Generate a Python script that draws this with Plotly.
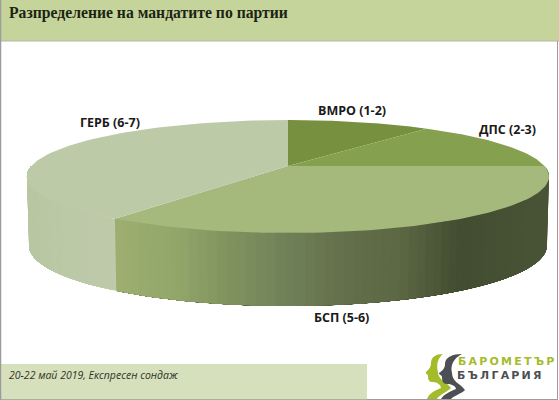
import numpy as np
import plotly.graph_objects as go

# mandates per party, clockwise from 12 o'clock
parties = ['ВМРО', 'ДПС', 'БСП', 'ГЕРБ']
ranges = ['1-2', '2-3', '5-6', '6-7']
mandates = [1.7, 2.3, 5.55, 6.45]

title_text = 'Разпределение на мандатите по партии'
footer_text = '20-22 май 2019, Експресен сондаж'
logo_top = 'БАРОМЕТЪР'
logo_bottom = 'БЪЛГАРИЯ'

top_colors = ['#76903f', '#85a04e', '#a5b97c', '#bdcaa8']

# pie geometry in pixels, the perspective is fitted to the picture
CX, CY = 288, 166
RX, RY = 256.5, 54.5
K = 0.186
DEPTH = 68


def project(theta, bottom=False):
    u, v = np.sin(theta), -np.cos(theta)
    x = CX + RX * u / (1 - K * v)
    y = CY + RY * v / (1 - K * v)
    if bottom:
        x = CX + (x - CX) * 0.992
        y = y + DEPTH + 5 * v
    return x, y


def hex_rgb(c):
    return np.array([int(c[i:i + 2], 16) for i in (1, 3, 5)], dtype=float)


def grad(x, stops):
    xs = [s[0] for s in stops]
    rgb = [np.interp(x, xs, [hex_rgb(s[1])[i] for s in stops]) for i in range(3)]
    return 'rgb(%d,%d,%d)' % tuple(rgb)


def spaced(text):
    # wide logo lettering, plotly has no letter spacing
    return '\u2009'.join(text)


bsp_side = [(113, '#9db071'), (170, '#95a86c'), (230, '#80935f'), (280, '#72835a'),
            (350, '#626f4a'), (400, '#5c6944'), (460, '#434d31'), (549, '#4a5537')]
gerb_side = [(27, '#b8c7a2'), (60, '#bbc9a6'), (113, '#bfcaab')]

shares = np.array(mandates) / sum(mandates)
edges = np.concatenate([[0], np.cumsum(shares)]) * 2 * np.pi

fig = go.Figure()


def add_poly(xs, ys, color):
    fig.add_trace(go.Scatter(x=xs, y=ys, mode='lines', fill='toself', fillcolor=color,
                             line=dict(width=0), hoverinfo='skip', showlegend=False))


# side wall, cut in strips for the gradient. each strip runs on to the slice end
# so the next one paints over it and no seams show
for i, stops in ((2, bsp_side), (3, gerb_side)):
    start = max(edges[i], np.pi / 2)
    end = min(edges[i + 1], 3 * np.pi / 2)
    cuts = np.linspace(start, end, 70)
    for a, b in zip(cuts[:-1], cuts[1:]):
        t = np.linspace(a, end, 60)
        xt, yt = project(t)
        xb, yb = project(t[::-1], bottom=True)
        color = grad(project(np.array([(a + b) / 2]))[0][0], stops)
        add_poly(np.r_[xt, xb], np.r_[yt, yb], color)

# top face
for i in range(len(mandates)):
    t = np.linspace(edges[i], edges[i + 1], 80)
    xt, yt = project(t)
    add_poly(np.r_[CX, xt, CX], np.r_[CY, yt, CY], top_colors[i])

shapes = [
    dict(type='rect', x0=0, x1=559, y0=0, y1=41, fillcolor='#c5d49a', line_width=0, layer='below'),
    dict(type='line', x0=0, x1=559, y0=41, y1=41, line=dict(color='#b4b8a8', width=1), layer='below'),
    dict(type='rect', x0=0, x1=367, y0=364, y1=399, fillcolor='#d7e0bc', line_width=0, layer='below'),
    dict(type='line', x0=0, x1=367, y0=399.5, y1=399.5, line=dict(color='#aab09c', width=1), layer='below'),
    dict(type='line', x0=0.5, x1=0.5, y0=0, y1=400, line=dict(color='#9c9c9c', width=1.5)),
    dict(type='line', x0=557.5, x1=557.5, y0=41, y1=400, line=dict(color='#9c9c9c', width=1)),
    dict(type='line', x0=367, x1=558, y0=399.5, y1=399.5, line=dict(color='#9c9c9c', width=1)),
    # logo heads
    dict(type='path', fillcolor='#a4bc2c', line_width=0,
         path='M443,354 C436,354 431,357 431,363 C431,367 429,369 426,372 C425,374 428,374 428,376 '
              'C428,380 429,382 433,382 C437,382 441,385 441,388 C436,390 429,393 427,399 L437,399 '
              'C439,395 447,392 451,388 C447,382 438,380 438,372 C436,364 438,358 443,354 Z'),
    dict(type='path', fillcolor='#4c4f54', line_width=0,
         path='M462,354 C453,354 445,357 445,364 C445,368 443,370 439,373 C439,375 442,375 442,377 '
              'C442,381 443,384 447,384 C451,384 456,386 456,389 C451,391 444,394 441,399 L451,399 '
              'C453,396 461,394 465,390 C461,384 452,382 452,373 C450,365 454,358 462,354 Z'),
]

annotations = []
label_pos = [(352, 110), (507, 129), (341, 317), (110, 122)]
for party, rng, (lx, ly) in zip(parties, ranges, label_pos):
    annotations.append(dict(x=lx, y=ly, text='<b>%s (%s)</b>' % (party, rng), showarrow=False,
                            font=dict(family='Open Sans', size=12.5, color='#1a1a1a')))
annotations += [
    dict(x=7, y=13, xanchor='left', text='<b>%s</b>' % title_text, showarrow=False,
         font=dict(family='Liberation Serif', size=15.7, color='#1c2414')),
    dict(x=7, y=375, xanchor='left', text='<i>%s</i>' % footer_text, showarrow=False,
         font=dict(family='Open Sans', size=10.5, color='#2e3328')),
    dict(x=506, y=361, text='<b>%s</b>' % spaced(logo_top), showarrow=False,
         font=dict(family='DejaVu Sans', size=11, color='#a4bc2c')),
    dict(x=499, y=375, text='<b>%s</b>' % spaced(logo_bottom), showarrow=False,
         font=dict(family='DejaVu Sans', size=11, color='#4c4f54')),
]

fig.update_layout(
    width=559, height=400, autosize=False,
    margin=dict(l=0, r=0, t=0, b=0),
    paper_bgcolor='white', plot_bgcolor='white',
    showlegend=False,
    xaxis=dict(range=[0, 559], visible=False, fixedrange=True),
    yaxis=dict(range=[400, 0], visible=False, fixedrange=True),
    shapes=shapes, annotations=annotations,
)

fig.write_html('out.html', config=dict(displayModeBar=False),
               post_script="document.body.style.margin='0';document.body.style.overflow='hidden';")
